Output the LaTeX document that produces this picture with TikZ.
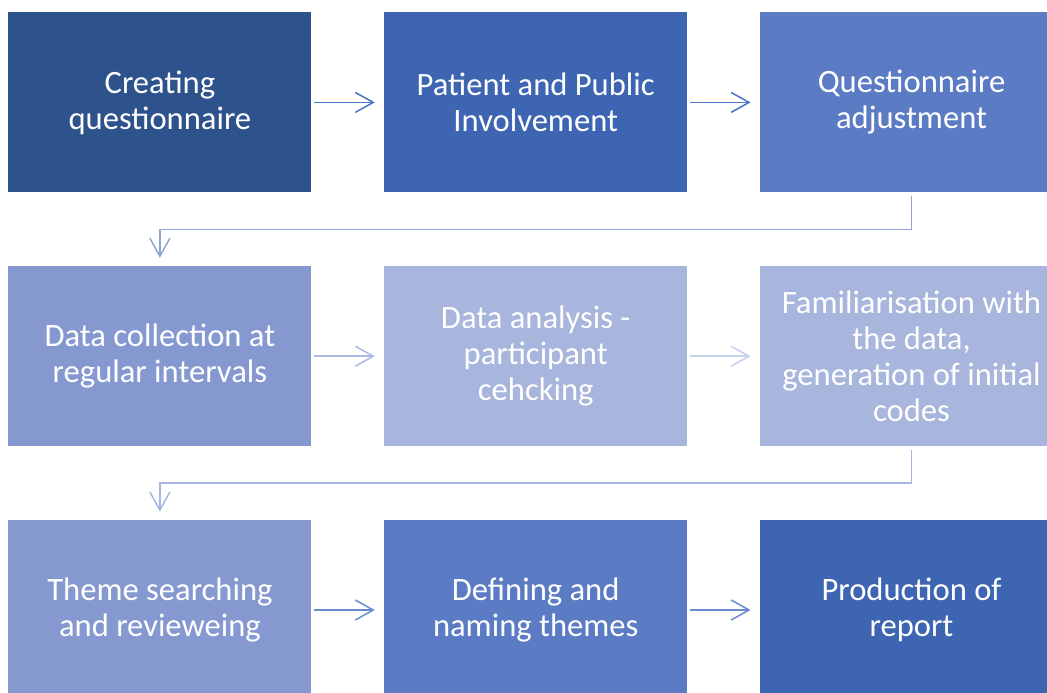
\documentclass[tikz,border=0pt]{standalone}
\usepackage{fontspec}
\setmainfont{Carlito}
\usepackage{tikz}
\usetikzlibrary{arrows.meta,positioning}
\definecolor{koyuMavi}{HTML}{2E528C}
\definecolor{mavi}{HTML}{3E65B2}
\definecolor{ortaMavi}{HTML}{5B7CC4}
\definecolor{acikMavi}{HTML}{8599D0}
\definecolor{solukMavi}{HTML}{A8B5DC}
\definecolor{okMavi}{HTML}{4A74C6}
\definecolor{okAltMavi}{HTML}{6A8AD2}
\definecolor{okAcik}{HTML}{A9BAE4}
\definecolor{okSoluk}{HTML}{C6D1EE}
\definecolor{okOrta}{HTML}{8FA5DA}
\definecolor{okOrtaAcik}{HTML}{A5B6E2}

\tikzset{
  kutu/.style={rectangle,minimum width=151.5pt,minimum height=90pt,inner sep=0pt,
    text=white,align=center,font=\fontsize{16.3}{18}\selectfont},
  ok/.style={line width=0.75pt,-{Straight Barb[length=9pt,width=10pt]},
    shorten <=1pt,shorten >=4.5pt},
  dirsek/.style={line width=0.75pt,-{Straight Barb[length=9pt,width=10pt]},
    shorten <=1.5pt,shorten >=4pt}
}

\begin{document}
\begin{tikzpicture}[node distance=36pt]
\useasboundingbox (0,0) rectangle (523.5pt,-346pt);
% first row
\node[kutu,fill=koyuMavi,anchor=north west] (olustur) at (4pt,-6pt) {Creating\\questionnaire};
\node[kutu,fill=mavi,right=of olustur] (katilim) {Patient and Public\\Involvement};
\node[kutu,fill=ortaMavi,right=of katilim] (duzelt) {Questionnaire\\adjustment};
% second row
\node[kutu,fill=acikMavi,below=36.5pt of olustur] (veri) {Data collection at\\regular intervals};
\node[kutu,fill=solukMavi,right=of veri] (analiz) {Data analysis -\\participant\\cehcking};
\node[kutu,fill=solukMavi,right=of analiz] (tanima) {Familiarisation with\\the data,\\generation of initial\\codes};
% third row
\node[kutu,fill=acikMavi,below=36.5pt of veri] (tema) {Theme searching\\and revieweing};
\node[kutu,fill=ortaMavi,right=of tema] (adlandir) {Defining and\\naming themes};
\node[kutu,fill=mavi,right=of adlandir] (rapor) {Production of\\report};

\draw[ok,okMavi] (olustur) -- (katilim);
\draw[ok,okMavi] (katilim) -- (duzelt);
\draw[dirsek,okOrta] (duzelt.south) -- ++(0,-18.25pt) -| (veri.north);
\draw[ok,okAcik] (veri) -- (analiz);
\draw[ok,okSoluk] (analiz) -- (tanima);
\draw[dirsek,okOrtaAcik] (tanima.south) -- ++(0,-18.25pt) -| (tema.north);
\draw[ok,okAltMavi] (tema) -- (adlandir);
\draw[ok,okAltMavi] (adlandir) -- (rapor);
\end{tikzpicture}
\end{document}
